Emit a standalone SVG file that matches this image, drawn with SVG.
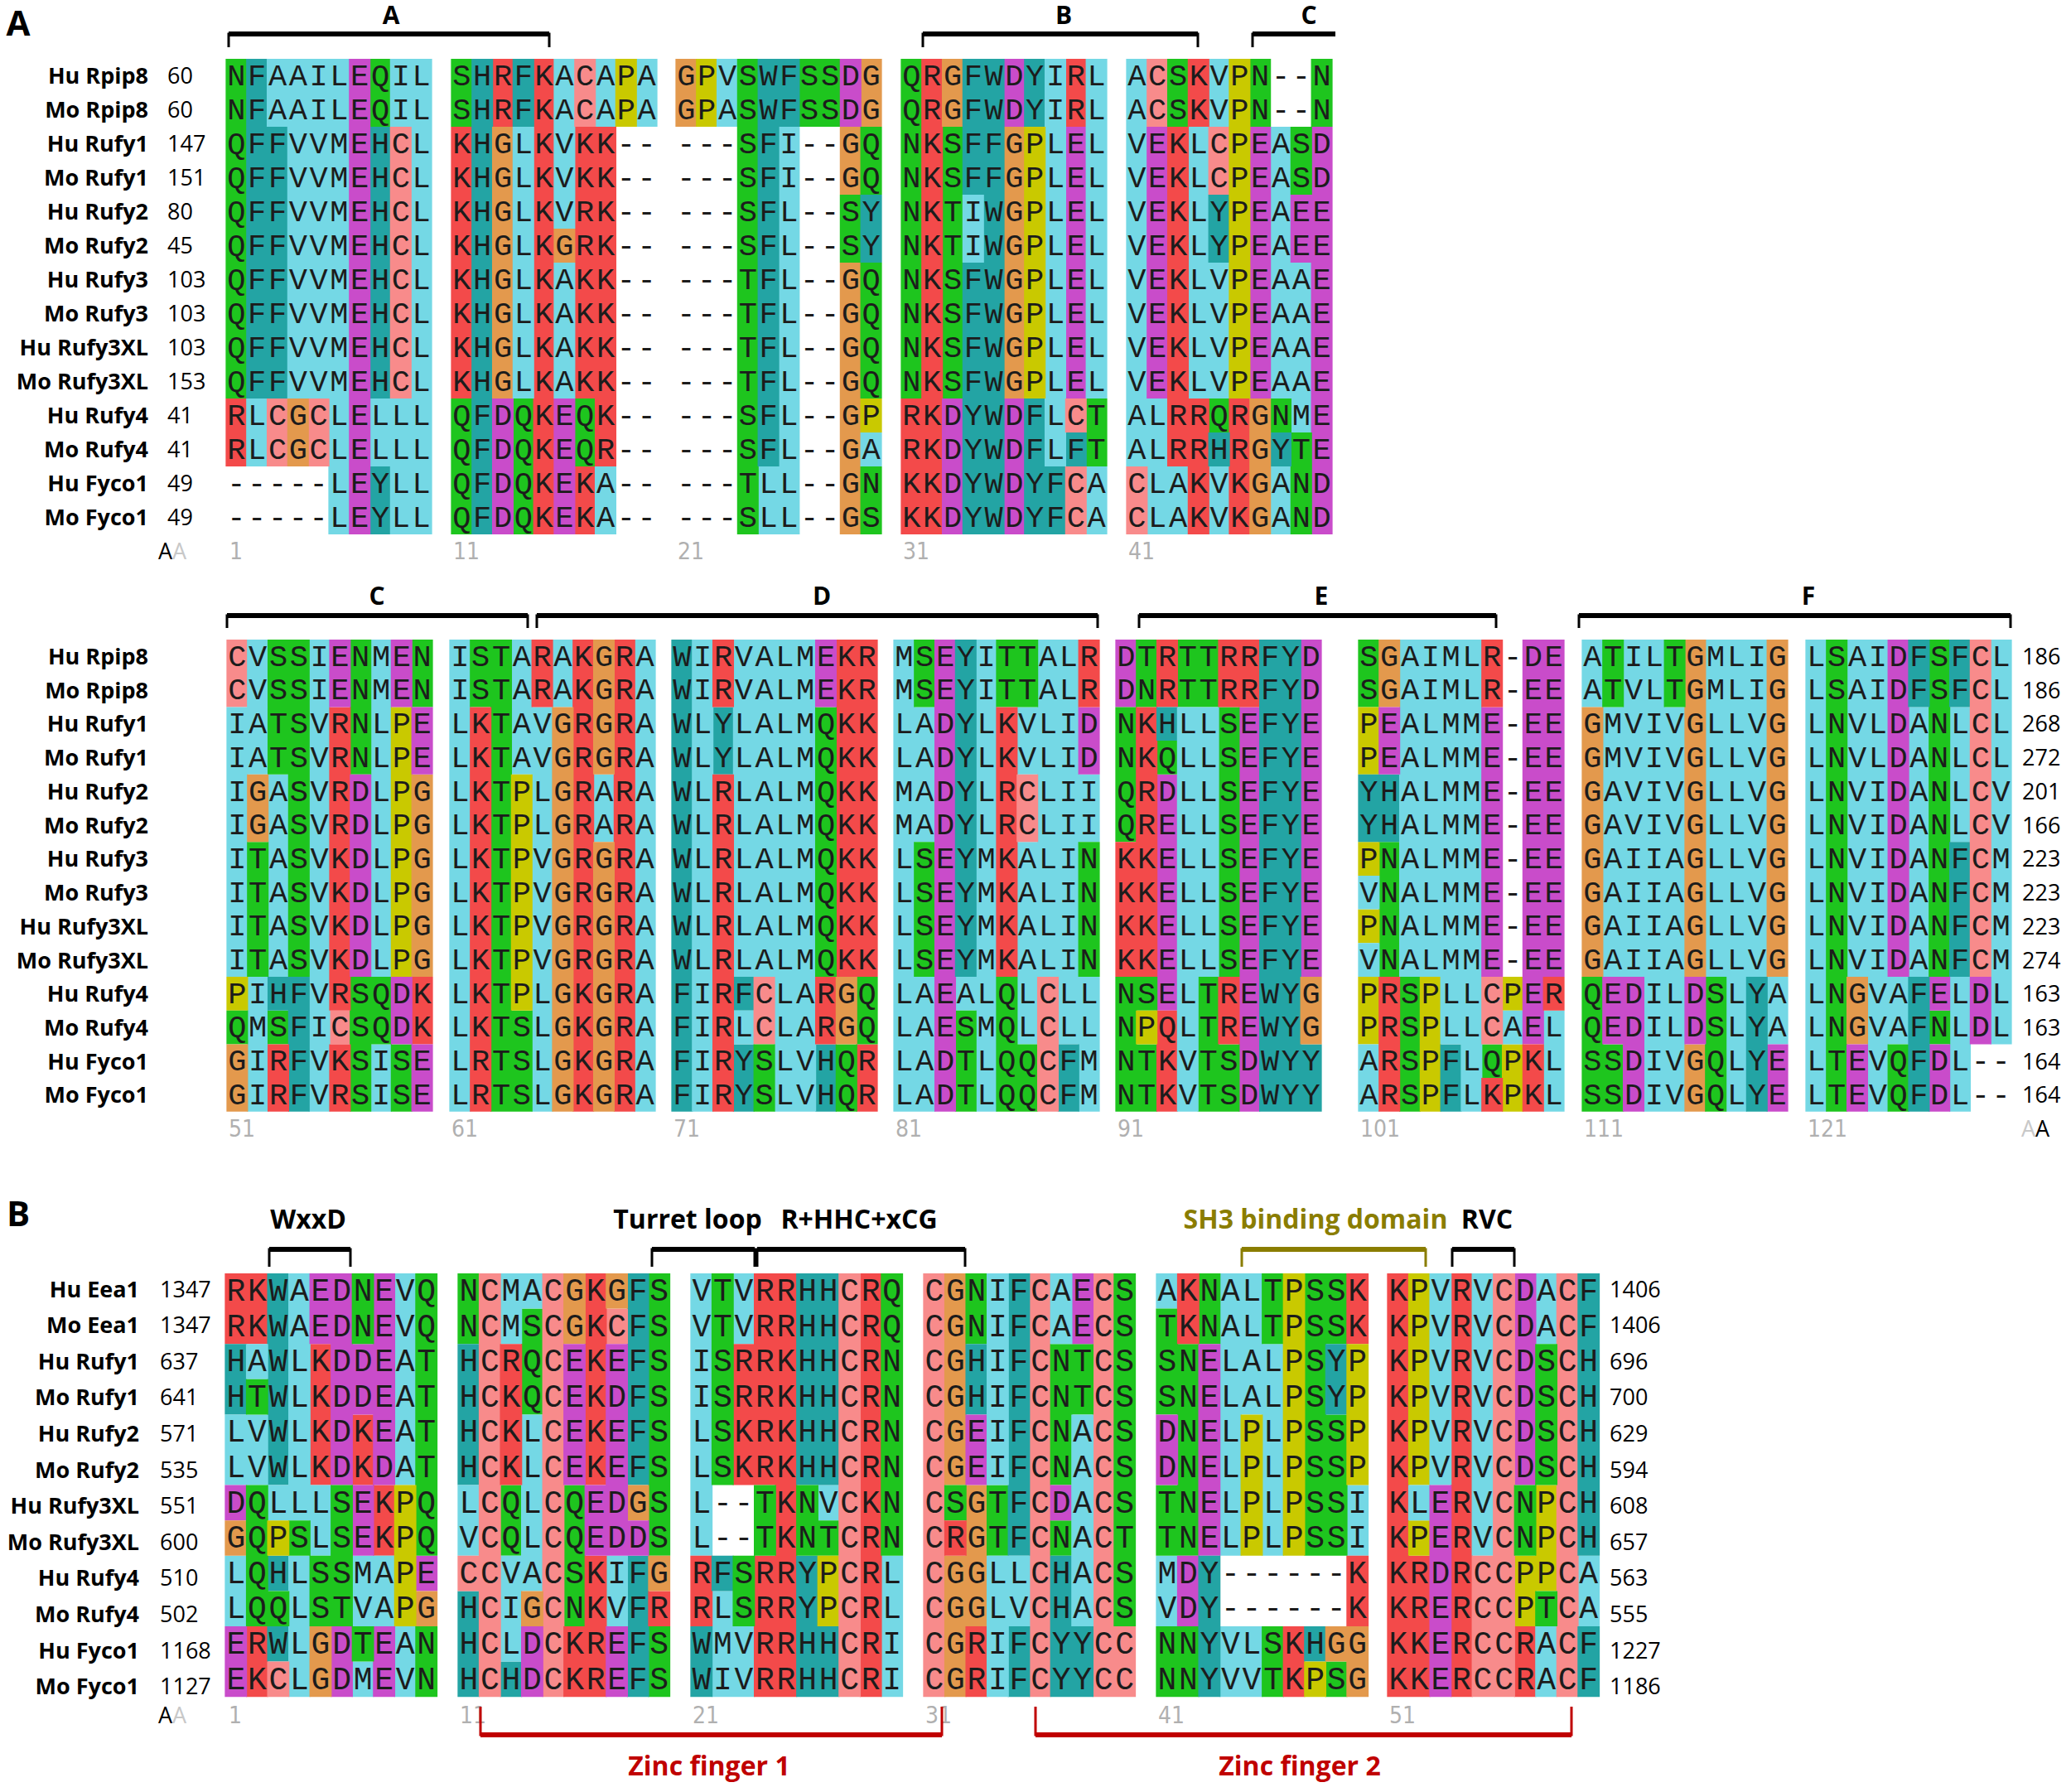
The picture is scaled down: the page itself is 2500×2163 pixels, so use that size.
<svg xmlns="http://www.w3.org/2000/svg" width="2500" height="2163" viewBox="0 0 2500 2163">
<style>
.bg path{fill:none;stroke-width:1.05}
.g{stroke:#1ec51e}.t{stroke:#23a4a4}.b{stroke:#74d8e5}.r{stroke:#f34a4a}.p{stroke:#f88b8b}.o{stroke:#e3994d}.y{stroke:#c9c900}.m{stroke:#c94cca}
.sq{font-family:"Liberation Mono","DejaVu Sans Mono",monospace;fill:#1c1c1c}
.sa{font-size:37px;letter-spacing:2.6px}
.sb{font-size:38px;letter-spacing:2.75px}
.nm{font-family:"Open Sans","Liberation Sans",sans-serif;font-weight:700;font-size:27px;text-anchor:end;fill:#000}
.nu{font-family:"Open Sans","Liberation Sans",sans-serif;font-size:27px;fill:#000}
.ix{font-family:"DejaVu Sans",sans-serif;font-stretch:condensed;font-size:28px;fill:#b0b0b0}
.hd{font-family:"Open Sans","Liberation Sans",sans-serif;font-weight:700;text-anchor:middle;fill:#000}
.tk{fill:none;stroke:#000;stroke-width:3}
.tp{fill:none;stroke:#000;stroke-width:6}
.ol{stroke:#8a7d00}
.rd{stroke:#c00000}
</style>
<rect width="2500" height="2163" fill="#fff"/>

<g id="panelA-top">
<g id="bgA1" class="bg">
<g transform="translate(273,71) scale(24.8,41)">
<path class="g" d="M.5 0v10M7.5 0v2"/>
<path class="r" d="M.5 10v2"/>
<path class="t" d="M1.5 0v10M2.5 2v8M7.5 2v8M7.5 12v2"/>
<path class="b" d="M1.5 10v2M2.5 0v2M3.5 0v10M4.5 0v10M5.5 0v14M7.5 10v2M8.5 0v2M8.5 10v4M9.5 0v14"/>
<path class="p" d="M2.5 10v2M4.5 10v2M8.5 2v8"/>
<path class="o" d="M3.5 10v2"/>
<path class="m" d="M6.5 0v14"/>
</g>
<g transform="translate(545,71) scale(24.8,41)">
<path class="g" d="M.5 0v2M.5 10v4M3.5 10v4M6.5 10v2"/>
<path class="r" d="M.5 2v8M2.5 0v2M4.5 0v14M6.5 2v8M6.5 12v2M7.5 2v10"/>
<path class="t" d="M1.5 0v14M3.5 0v2"/>
<path class="o" d="M2.5 2v8M5.5 5v1"/>
<path class="m" d="M2.5 10v4M5.5 10v4"/>
<path class="b" d="M3.5 2v8M5.5 0v5M5.5 6v4M7.5 0v2M7.5 12v2M9.5 0v2"/>
<path class="p" d="M6.5 0v2"/>
<path class="y" d="M8.5 0v2"/>
</g>
<g transform="translate(816,71) scale(24.8,41)">
<path class="o" d="M.5 0v2M8.5 2v2M8.5 6v8M9.5 0v2"/>
<path class="y" d="M1.5 0v2M9.5 10v1"/>
<path class="b" d="M2.5 0v2M4.5 12v2M5.5 2v12M9.5 11v1"/>
<path class="g" d="M3.5 0v14M6.5 0v2M7.5 0v2M8.5 4v2M9.5 2v2M9.5 6v4M9.5 12v2"/>
<path class="t" d="M4.5 0v12M5.5 0v2M9.5 4v2"/>
<path class="m" d="M8.5 0v2"/>
</g>
<g transform="translate(1088,71) scale(24.8,41)">
<path class="g" d="M.5 0v10M2.5 2v8M9.5 10v2"/>
<path class="r" d="M.5 10v4M1.5 0v14M8.5 0v2"/>
<path class="o" d="M2.5 0v2M5.5 2v8"/>
<path class="m" d="M2.5 10v4M5.5 0v2M5.5 10v4M8.5 2v8"/>
<path class="t" d="M3.5 0v4M3.5 6v8M4.5 0v14M6.5 0v2M6.5 10v4M7.5 12v2M8.5 11v1"/>
<path class="b" d="M3.5 4v2M7.5 0v12M9.5 0v10M9.5 12v2"/>
<path class="y" d="M6.5 2v8"/>
<path class="p" d="M8.5 10v1M8.5 12v2"/>
</g>
<g transform="translate(1360,71) scale(24.8,41)">
<path class="b" d="M.5 0v12M1.5 10v4M2.5 12v2M3.5 2v8M4.5 0v2M4.5 6v4M4.5 12v2M7.5 2v8M7.5 12v2M8.5 6v5"/>
<path class="p" d="M.5 12v2M1.5 0v2M4.5 2v2"/>
<path class="m" d="M1.5 2v8M6.5 2v8M8.5 4v2M9.5 2v12"/>
<path class="g" d="M2.5 0v2M4.5 10v1M6.5 0v2M7.5 10v1M8.5 2v2M8.5 11v3M9.5 0v2"/>
<path class="r" d="M2.5 2v10M3.5 0v2M3.5 10v4M5.5 10v4"/>
<path class="t" d="M4.5 4v2M4.5 11v1M7.5 11v1"/>
<path class="y" d="M5.5 0v10"/>
<path class="o" d="M6.5 10v4"/>
</g>
</g>
<g id="seqA1" class="sq sa">
<text y="103"><tspan x="274.3">NFAAILEQIL</tspan><tspan x="546.3">SHRFKACAPA</tspan><tspan x="817.3">GPVSWFSSDG</tspan><tspan x="1089.3">QRGFWDYIRL</tspan><tspan x="1361.3">ACSKVPN--N</tspan></text>
<text y="144"><tspan x="274.3">NFAAILEQIL</tspan><tspan x="546.3">SHRFKACAPA</tspan><tspan x="817.3">GPASWFSSDG</tspan><tspan x="1089.3">QRGFWDYIRL</tspan><tspan x="1361.3">ACSKVPN--N</tspan></text>
<text y="185"><tspan x="274.3">QFFVVMEHCL</tspan><tspan x="546.3">KHGLKVKK--</tspan><tspan x="817.3">---SFI--GQ</tspan><tspan x="1089.3">NKSFFGPLEL</tspan><tspan x="1361.3">VEKLCPEASD</tspan></text>
<text y="226"><tspan x="274.3">QFFVVMEHCL</tspan><tspan x="546.3">KHGLKVKK--</tspan><tspan x="817.3">---SFI--GQ</tspan><tspan x="1089.3">NKSFFGPLEL</tspan><tspan x="1361.3">VEKLCPEASD</tspan></text>
<text y="267"><tspan x="274.3">QFFVVMEHCL</tspan><tspan x="546.3">KHGLKVRK--</tspan><tspan x="817.3">---SFL--SY</tspan><tspan x="1089.3">NKTIWGPLEL</tspan><tspan x="1361.3">VEKLYPEAEE</tspan></text>
<text y="308"><tspan x="274.3">QFFVVMEHCL</tspan><tspan x="546.3">KHGLKGRK--</tspan><tspan x="817.3">---SFL--SY</tspan><tspan x="1089.3">NKTIWGPLEL</tspan><tspan x="1361.3">VEKLYPEAEE</tspan></text>
<text y="349"><tspan x="274.3">QFFVVMEHCL</tspan><tspan x="546.3">KHGLKAKK--</tspan><tspan x="817.3">---TFL--GQ</tspan><tspan x="1089.3">NKSFWGPLEL</tspan><tspan x="1361.3">VEKLVPEAAE</tspan></text>
<text y="390"><tspan x="274.3">QFFVVMEHCL</tspan><tspan x="546.3">KHGLKAKK--</tspan><tspan x="817.3">---TFL--GQ</tspan><tspan x="1089.3">NKSFWGPLEL</tspan><tspan x="1361.3">VEKLVPEAAE</tspan></text>
<text y="431"><tspan x="274.3">QFFVVMEHCL</tspan><tspan x="546.3">KHGLKAKK--</tspan><tspan x="817.3">---TFL--GQ</tspan><tspan x="1089.3">NKSFWGPLEL</tspan><tspan x="1361.3">VEKLVPEAAE</tspan></text>
<text y="472"><tspan x="274.3">QFFVVMEHCL</tspan><tspan x="546.3">KHGLKAKK--</tspan><tspan x="817.3">---TFL--GQ</tspan><tspan x="1089.3">NKSFWGPLEL</tspan><tspan x="1361.3">VEKLVPEAAE</tspan></text>
<text y="513"><tspan x="274.3">RLCGCLELLL</tspan><tspan x="546.3">QFDQKEQK--</tspan><tspan x="817.3">---SFL--GP</tspan><tspan x="1089.3">RKDYWDFLCT</tspan><tspan x="1361.3">ALRRQRGNME</tspan></text>
<text y="554"><tspan x="274.3">RLCGCLELLL</tspan><tspan x="546.3">QFDQKEQR--</tspan><tspan x="817.3">---SFL--GA</tspan><tspan x="1089.3">RKDYWDFLFT</tspan><tspan x="1361.3">ALRRHRGYTE</tspan></text>
<text y="595"><tspan x="274.3">-----LEYLL</tspan><tspan x="546.3">QFDQKEKA--</tspan><tspan x="817.3">---TLL--GN</tspan><tspan x="1089.3">KKDYWDYFCA</tspan><tspan x="1361.3">CLAKVKGAND</tspan></text>
<text y="636"><tspan x="274.3">-----LEYLL</tspan><tspan x="546.3">QFDQKEKA--</tspan><tspan x="817.3">---SLL--GS</tspan><tspan x="1089.3">KKDYWDYFCA</tspan><tspan x="1361.3">CLAKVKGAND</tspan></text>
</g>
<g id="namesA1">
<text class="nm" x="179" y="101">Hu Rpip8</text><text class="nu" x="202" y="101">60</text>
<text class="nm" x="179" y="142">Mo Rpip8</text><text class="nu" x="202" y="142">60</text>
<text class="nm" x="179" y="183">Hu Rufy1</text><text class="nu" x="202" y="183">147</text>
<text class="nm" x="179" y="224">Mo Rufy1</text><text class="nu" x="202" y="224">151</text>
<text class="nm" x="179" y="265">Hu Rufy2</text><text class="nu" x="202" y="265">80</text>
<text class="nm" x="179" y="306">Mo Rufy2</text><text class="nu" x="202" y="306">45</text>
<text class="nm" x="179" y="347">Hu Rufy3</text><text class="nu" x="202" y="347">103</text>
<text class="nm" x="179" y="388">Mo Rufy3</text><text class="nu" x="202" y="388">103</text>
<text class="nm" x="179" y="429">Hu Rufy3XL</text><text class="nu" x="202" y="429">103</text>
<text class="nm" x="179" y="470">Mo Rufy3XL</text><text class="nu" x="202" y="470">153</text>
<text class="nm" x="179" y="511">Hu Rufy4</text><text class="nu" x="202" y="511">41</text>
<text class="nm" x="179" y="552">Mo Rufy4</text><text class="nu" x="202" y="552">41</text>
<text class="nm" x="179" y="593">Hu Fyco1</text><text class="nu" x="202" y="593">49</text>
<text class="nm" x="179" y="634">Mo Fyco1</text><text class="nu" x="202" y="634">49</text>
<text class="nu" x="191" y="675">A<tspan fill="#c8c8c8">A</tspan></text>
</g>
<g id="idxA1" class="ix">
<text x="277" y="675">1</text><text x="547" y="675">11</text><text x="818" y="675">21</text><text x="1090" y="675">31</text><text x="1362" y="675">41</text>
</g>
</g>

<g id="panelA-bottom">
<g id="bgA2" class="bg">
<g transform="translate(274,772) scale(24.8,40.7)">
<path class="p" d="M.5 0v2M5.5 11v1"/>
<path class="b" d="M.5 2v8M1.5 0v4M1.5 10v4M2.5 4v6M4.5 0v14M7.5 0v10M7.5 12v2"/>
<path class="y" d="M.5 10v1M8.5 2v8"/>
<path class="g" d="M.5 11v1M1.5 6v4M2.5 0v4M2.5 11v1M3.5 0v10M6.5 0v4M6.5 10v4M7.5 10v2M8.5 12v2M9.5 0v2"/>
<path class="o" d="M.5 12v2M1.5 4v2M9.5 4v6"/>
<path class="t" d="M2.5 10v1M3.5 10v4"/>
<path class="r" d="M2.5 12v2M5.5 2v9M5.5 12v2M9.5 10v2"/>
<path class="m" d="M5.5 0v2M6.5 4v6M8.5 0v2M8.5 10v2M9.5 2v2M9.5 12v2"/>
</g>
<g transform="translate(543,772) scale(24.8,40.7)">
<path class="b" d="M.5 0v14M3.5 0v4M4.5 2v12M5.5 0v2M7.5 4v2M9.5 0v14"/>
<path class="g" d="M1.5 0v2M2.5 0v14M3.5 11v3"/>
<path class="r" d="M1.5 2v12M4.5 0v2M6.5 0v14M8.5 0v14"/>
<path class="y" d="M3.5 4v7"/>
<path class="o" d="M5.5 2v12M7.5 0v4M7.5 6v8"/>
</g>
<g transform="translate(811,772) scale(24.8,40.7)">
<path class="t" d="M.5 0v14M2.5 2v2M3.5 10v1M3.5 12v2M7.5 12v2"/>
<path class="b" d="M1.5 0v14M3.5 0v10M3.5 11v1M4.5 0v10M5.5 0v14M6.5 0v14"/>
<path class="r" d="M2.5 0v2M2.5 4v10M7.5 10v2M8.5 0v10M9.5 0v10M9.5 12v2"/>
<path class="p" d="M4.5 10v2"/>
<path class="g" d="M4.5 12v2M7.5 2v8M8.5 12v2M9.5 10v2"/>
<path class="m" d="M7.5 0v2"/>
<path class="o" d="M8.5 10v2"/>
</g>
<g transform="translate(1079,772) scale(24.8,40.7)">
<path class="b" d="M.5 0v14M1.5 2v4M1.5 10v4M3.5 10v1M4.5 0v14M6.5 2v2M6.5 6v6M7.5 0v10M8.5 0v12M9.5 4v2M9.5 10v4"/>
<path class="g" d="M1.5 0v2M1.5 6v4M3.5 11v3M5.5 0v2M5.5 10v4M6.5 0v2M6.5 12v2M9.5 6v4"/>
<path class="m" d="M2.5 0v14M9.5 2v2"/>
<path class="t" d="M3.5 0v10M8.5 12v2"/>
<path class="r" d="M5.5 2v8M9.5 0v2"/>
<path class="p" d="M6.5 4v2M7.5 10v4"/>
</g>
<g transform="translate(1347,772) scale(24.8,40.7)">
<path class="m" d="M.5 0v2M2.5 4v7M6.5 2v12M9.5 0v10"/>
<path class="g" d="M.5 2v4M.5 10v4M1.5 0v2M1.5 10v1M1.5 12v2M2.5 3v1M3.5 0v2M4.5 0v2M4.5 10v4M5.5 2v8M5.5 12v2"/>
<path class="r" d="M.5 6v4M1.5 2v8M2.5 0v2M2.5 11v3M5.5 0v2M5.5 10v2M6.5 0v2"/>
<path class="y" d="M1.5 11v1"/>
<path class="t" d="M2.5 2v1M7.5 0v14M8.5 0v14M9.5 12v2"/>
<path class="b" d="M3.5 2v12M4.5 2v8"/>
<path class="o" d="M9.5 10v2"/>
</g>
<g transform="translate(1640,772) scale(24.8,40.7)">
<path class="g" d="M.5 0v2M1.5 6v4M2.5 10v4M6.5 12v1"/>
<path class="y" d="M.5 2v2M.5 6v1M.5 8v1M.5 10v2M3.5 10v4M7.5 10v1M7.5 12v2"/>
<path class="t" d="M.5 4v2M1.5 4v2M4.5 12v2"/>
<path class="b" d="M.5 7v1M.5 9v1M.5 12v2M2.5 0v10M3.5 0v10M4.5 0v12M5.5 0v14M7.5 11v1M9.5 11v3"/>
<path class="o" d="M1.5 0v2"/>
<path class="m" d="M1.5 2v2M6.5 2v8M8.5 0v12M9.5 0v10"/>
<path class="r" d="M1.5 10v4M6.5 0v2M6.5 13v1M8.5 12v2M9.5 10v1"/>
<path class="p" d="M6.5 10v2"/>
</g>
<g transform="translate(1910,772) scale(24.8,40.7)">
<path class="b" d="M.5 0v2M1.5 2v8M2.5 0v10M3.5 0v14M4.5 2v12M6.5 0v10M7.5 0v14M8.5 0v10M9.5 10v2"/>
<path class="o" d="M.5 2v8M5.5 0v10M5.5 12v2M9.5 0v10"/>
<path class="g" d="M.5 10v4M1.5 0v2M1.5 12v2M4.5 0v2M6.5 10v4"/>
<path class="m" d="M1.5 10v2M2.5 10v4M5.5 10v2M9.5 12v2"/>
<path class="t" d="M8.5 10v4"/>
</g>
<g transform="translate(2180,772) scale(24.8,40.7)">
<path class="b" d="M.5 0v14M2.5 0v10M3.5 0v14M4.5 10v2M5.5 2v8M7.5 2v4M7.5 10v4M9.5 0v12"/>
<path class="g" d="M1.5 0v14M4.5 12v2M6.5 0v10M6.5 11v1"/>
<path class="o" d="M2.5 10v2"/>
<path class="m" d="M2.5 12v2M4.5 0v10M6.5 10v1M6.5 12v2M8.5 10v2"/>
<path class="t" d="M5.5 0v2M5.5 10v4M7.5 0v2M7.5 6v4"/>
<path class="p" d="M8.5 0v10"/>
</g>
</g>
<g id="seqA2" class="sq sa">
<text y="803.7"><tspan x="275.3">CVSSIENMEN</tspan><tspan x="544.3">ISTARAKGRA</tspan><tspan x="812.3">WIRVALMEKR</tspan><tspan x="1080.3">MSEYITTALR</tspan><tspan x="1348.3">DTRTTRRFYD</tspan><tspan x="1641.3">SGAIMLR-DE</tspan><tspan x="1911.3">ATILTGMLIG</tspan><tspan x="2181.3">LSAIDFSFCL</tspan></text>
<text y="844.4"><tspan x="275.3">CVSSIENMEN</tspan><tspan x="544.3">ISTARAKGRA</tspan><tspan x="812.3">WIRVALMEKR</tspan><tspan x="1080.3">MSEYITTALR</tspan><tspan x="1348.3">DNRTTRRFYD</tspan><tspan x="1641.3">SGAIMLR-EE</tspan><tspan x="1911.3">ATVLTGMLIG</tspan><tspan x="2181.3">LSAIDFSFCL</tspan></text>
<text y="885.1"><tspan x="275.3">IATSVRNLPE</tspan><tspan x="544.3">LKTAVGRGRA</tspan><tspan x="812.3">WLYLALMQKK</tspan><tspan x="1080.3">LADYLKVLID</tspan><tspan x="1348.3">NKHLLSEFYE</tspan><tspan x="1641.3">PEALMME-EE</tspan><tspan x="1911.3">GMVIVGLLVG</tspan><tspan x="2181.3">LNVLDANLCL</tspan></text>
<text y="925.8"><tspan x="275.3">IATSVRNLPE</tspan><tspan x="544.3">LKTAVGRGRA</tspan><tspan x="812.3">WLYLALMQKK</tspan><tspan x="1080.3">LADYLKVLID</tspan><tspan x="1348.3">NKQLLSEFYE</tspan><tspan x="1641.3">PEALMME-EE</tspan><tspan x="1911.3">GMVIVGLLVG</tspan><tspan x="2181.3">LNVLDANLCL</tspan></text>
<text y="966.5"><tspan x="275.3">IGASVRDLPG</tspan><tspan x="544.3">LKTPLGRARA</tspan><tspan x="812.3">WLRLALMQKK</tspan><tspan x="1080.3">MADYLRCLII</tspan><tspan x="1348.3">QRDLLSEFYE</tspan><tspan x="1641.3">YHALMME-EE</tspan><tspan x="1911.3">GAVIVGLLVG</tspan><tspan x="2181.3">LNVIDANLCV</tspan></text>
<text y="1007.2"><tspan x="275.3">IGASVRDLPG</tspan><tspan x="544.3">LKTPLGRARA</tspan><tspan x="812.3">WLRLALMQKK</tspan><tspan x="1080.3">MADYLRCLII</tspan><tspan x="1348.3">QRELLSEFYE</tspan><tspan x="1641.3">YHALMME-EE</tspan><tspan x="1911.3">GAVIVGLLVG</tspan><tspan x="2181.3">LNVIDANLCV</tspan></text>
<text y="1047.9"><tspan x="275.3">ITASVKDLPG</tspan><tspan x="544.3">LKTPVGRGRA</tspan><tspan x="812.3">WLRLALMQKK</tspan><tspan x="1080.3">LSEYMKALIN</tspan><tspan x="1348.3">KKELLSEFYE</tspan><tspan x="1641.3">PNALMME-EE</tspan><tspan x="1911.3">GAIIAGLLVG</tspan><tspan x="2181.3">LNVIDANFCM</tspan></text>
<text y="1088.6"><tspan x="275.3">ITASVKDLPG</tspan><tspan x="544.3">LKTPVGRGRA</tspan><tspan x="812.3">WLRLALMQKK</tspan><tspan x="1080.3">LSEYMKALIN</tspan><tspan x="1348.3">KKELLSEFYE</tspan><tspan x="1641.3">VNALMME-EE</tspan><tspan x="1911.3">GAIIAGLLVG</tspan><tspan x="2181.3">LNVIDANFCM</tspan></text>
<text y="1129.3"><tspan x="275.3">ITASVKDLPG</tspan><tspan x="544.3">LKTPVGRGRA</tspan><tspan x="812.3">WLRLALMQKK</tspan><tspan x="1080.3">LSEYMKALIN</tspan><tspan x="1348.3">KKELLSEFYE</tspan><tspan x="1641.3">PNALMME-EE</tspan><tspan x="1911.3">GAIIAGLLVG</tspan><tspan x="2181.3">LNVIDANFCM</tspan></text>
<text y="1170"><tspan x="275.3">ITASVKDLPG</tspan><tspan x="544.3">LKTPVGRGRA</tspan><tspan x="812.3">WLRLALMQKK</tspan><tspan x="1080.3">LSEYMKALIN</tspan><tspan x="1348.3">KKELLSEFYE</tspan><tspan x="1641.3">VNALMME-EE</tspan><tspan x="1911.3">GAIIAGLLVG</tspan><tspan x="2181.3">LNVIDANFCM</tspan></text>
<text y="1210.7"><tspan x="275.3">PIHFVRSQDK</tspan><tspan x="544.3">LKTPLGKGRA</tspan><tspan x="812.3">FIRFCLARGQ</tspan><tspan x="1080.3">LAEALQLCLL</tspan><tspan x="1348.3">NSELTREWYG</tspan><tspan x="1641.3">PRSPLLCPER</tspan><tspan x="1911.3">QEDILDSLYA</tspan><tspan x="2181.3">LNGVAFELDL</tspan></text>
<text y="1251.4"><tspan x="275.3">QMSFICSQDK</tspan><tspan x="544.3">LKTSLGKGRA</tspan><tspan x="812.3">FIRLCLARGQ</tspan><tspan x="1080.3">LAESMQLCLL</tspan><tspan x="1348.3">NPQLTREWYG</tspan><tspan x="1641.3">PRSPLLCAEL</tspan><tspan x="1911.3">QEDILDSLYA</tspan><tspan x="2181.3">LNGVAFNLDL</tspan></text>
<text y="1292.1"><tspan x="275.3">GIRFVKSISE</tspan><tspan x="544.3">LRTSLGKGRA</tspan><tspan x="812.3">FIRYSLVHQR</tspan><tspan x="1080.3">LADTLQQCFM</tspan><tspan x="1348.3">NTKVTSDWYY</tspan><tspan x="1641.3">ARSPFLQPKL</tspan><tspan x="1911.3">SSDIVGQLYE</tspan><tspan x="2181.3">LTEVQFDL--</tspan></text>
<text y="1332.8"><tspan x="275.3">GIRFVRSISE</tspan><tspan x="544.3">LRTSLGKGRA</tspan><tspan x="812.3">FIRYSLVHQR</tspan><tspan x="1080.3">LADTLQQCFM</tspan><tspan x="1348.3">NTKVTSDWYY</tspan><tspan x="1641.3">ARSPFLKPKL</tspan><tspan x="1911.3">SSDIVGQLYE</tspan><tspan x="2181.3">LTEVQFDL--</tspan></text>
</g>
<g id="namesA2">
<text class="nm" x="179" y="802">Hu Rpip8</text><text class="nu" x="2441" y="802">186</text>
<text class="nm" x="179" y="842.7">Mo Rpip8</text><text class="nu" x="2441" y="842.7">186</text>
<text class="nm" x="179" y="883.4">Hu Rufy1</text><text class="nu" x="2441" y="883.4">268</text>
<text class="nm" x="179" y="924.2">Mo Rufy1</text><text class="nu" x="2441" y="924.2">272</text>
<text class="nm" x="179" y="964.9">Hu Rufy2</text><text class="nu" x="2441" y="964.9">201</text>
<text class="nm" x="179" y="1005.6">Mo Rufy2</text><text class="nu" x="2441" y="1005.6">166</text>
<text class="nm" x="179" y="1046.3">Hu Rufy3</text><text class="nu" x="2441" y="1046.3">223</text>
<text class="nm" x="179" y="1087">Mo Rufy3</text><text class="nu" x="2441" y="1087">223</text>
<text class="nm" x="179" y="1127.8">Hu Rufy3XL</text><text class="nu" x="2441" y="1127.8">223</text>
<text class="nm" x="179" y="1168.5">Mo Rufy3XL</text><text class="nu" x="2441" y="1168.5">274</text>
<text class="nm" x="179" y="1209.2">Hu Rufy4</text><text class="nu" x="2441" y="1209.2">163</text>
<text class="nm" x="179" y="1249.9">Mo Rufy4</text><text class="nu" x="2441" y="1249.9">163</text>
<text class="nm" x="179" y="1290.6">Hu Fyco1</text><text class="nu" x="2441" y="1290.6">164</text>
<text class="nm" x="179" y="1331.4">Mo Fyco1</text><text class="nu" x="2441" y="1331.4">164</text>
<text class="nu" x="2440" y="1372"><tspan fill="#c8c8c8">A</tspan>A</text>
</g>
<g id="idxA2" class="ix">
<text x="276" y="1372">51</text><text x="545" y="1372">61</text><text x="813" y="1372">71</text><text x="1081" y="1372">81</text><text x="1349" y="1372">91</text><text x="1642" y="1372">101</text><text x="1912" y="1372">111</text><text x="2182" y="1372">121</text>
</g>
</g>

<g id="panelB">
<g id="bgB" class="bg">
<g transform="translate(272,1537) scale(25.55,42.6)">
<path class="r" d="M.5 0v2M1.5 0v2M1.5 10v2M4.5 2v4M6.5 4v2M7.5 6v2"/>
<path class="t" d="M.5 2v2M2.5 0v6M2.5 8v1M2.5 10v1"/>
<path class="b" d="M.5 4v2M.5 8v2M1.5 2v1M1.5 4v2M2.5 6v1M3.5 0v7M3.5 8v4M4.5 6v2M6.5 8v2M6.5 11v1M7.5 8v2M8.5 0v6M8.5 10v2"/>
<path class="m" d="M.5 6v1M.5 10v2M4.5 0v2M5.5 0v6M5.5 10v2M6.5 2v2M6.5 6v2M7.5 0v6M7.5 10v2M9.5 8v1"/>
<path class="o" d="M.5 7v1M4.5 10v2M9.5 9v1"/>
<path class="g" d="M1.5 3v1M1.5 6v4M2.5 9v1M3.5 7v1M4.5 8v2M5.5 6v4M6.5 0v2M6.5 10v1M9.5 0v8M9.5 10v2"/>
<path class="y" d="M2.5 7v1M8.5 6v4"/>
<path class="p" d="M2.5 11v1"/>
</g>
<g transform="translate(553,1537) scale(25.55,42.6)">
<path class="g" d="M.5 0v2M2.5 6v2M3.5 1v3M5.5 6v4M9.5 0v8M9.5 10v2"/>
<path class="t" d="M.5 2v4M.5 9v3M2.5 11v1M8.5 0v6M8.5 8v4"/>
<path class="b" d="M.5 6v2M2.5 0v2M2.5 8v3M3.5 0v1M3.5 4v5M7.5 8v2"/>
<path class="p" d="M.5 8v1M1.5 0v12M4.5 0v12M7.5 1v1"/>
<path class="r" d="M2.5 2v4M5.5 10v2M6.5 0v6M6.5 8v4M9.5 9v1"/>
<path class="o" d="M3.5 9v1M5.5 0v2M7.5 0v1M8.5 6v1M9.5 8v1"/>
<path class="m" d="M3.5 10v2M5.5 2v4M6.5 6v2M7.5 2v6M7.5 10v2M8.5 7v1"/>
</g>
<g transform="translate(834,1537) scale(25.55,42.6)">
<path class="b" d="M.5 0v8M1.5 9v3M2.5 0v2M2.5 10v2M6.5 6v1M9.5 8v4"/>
<path class="r" d="M.5 8v2M2.5 2v4M3.5 0v6M3.5 8v4M4.5 0v12M8.5 0v12"/>
<path class="t" d="M.5 10v2M1.5 8v1M5.5 0v6M5.5 8v4M6.5 0v6M6.5 10v2"/>
<path class="g" d="M1.5 0v6M2.5 8v2M3.5 6v2M5.5 6v2M6.5 7v1M9.5 0v8"/>
<path class="y" d="M6.5 8v2"/>
<path class="p" d="M7.5 0v12"/>
</g>
<g transform="translate(1115,1537) scale(25.55,42.6)">
<path class="p" d="M.5 0v12M5.5 0v12M8.5 0v12M9.5 10v2"/>
<path class="o" d="M1.5 0v6M1.5 8v4M2.5 6v4"/>
<path class="g" d="M1.5 6v1M2.5 0v2M3.5 6v2M6.5 2v4M6.5 7v1M7.5 2v2M9.5 0v10"/>
<path class="r" d="M1.5 7v1M2.5 10v2"/>
<path class="t" d="M2.5 2v2M4.5 0v8M4.5 10v2M6.5 8v4M7.5 10v2"/>
<path class="m" d="M2.5 4v2M6.5 6v1M7.5 0v2"/>
<path class="b" d="M3.5 0v6M3.5 8v4M4.5 8v2M6.5 0v2M7.5 4v6"/>
</g>
<g transform="translate(1396,1537) scale(25.55,42.6)">
<path class="b" d="M.5 0v1M.5 8v2M3.5 0v8M3.5 10v2M4.5 0v4M4.5 10v2M5.5 2v6M9.5 6v2"/>
<path class="g" d="M.5 1v3M.5 6v2M.5 10v2M1.5 2v6M1.5 10v2M2.5 0v2M5.5 0v2M5.5 10v2M7.5 0v8M8.5 0v2M8.5 4v4M8.5 11v1"/>
<path class="m" d="M.5 4v2M1.5 8v2M2.5 2v6"/>
<path class="r" d="M1.5 0v2M6.5 10v2M9.5 0v2M9.5 8v2"/>
<path class="t" d="M2.5 8v4M7.5 10v1M8.5 2v2"/>
<path class="y" d="M4.5 4v4M6.5 0v8M7.5 11v1M9.5 2v4"/>
<path class="o" d="M8.5 10v1M9.5 10v2"/>
</g>
<g transform="translate(1675,1537) scale(25.55,42.6)">
<path class="r" d="M.5 0v12M1.5 8v4M3.5 0v12M6.5 10v2"/>
<path class="y" d="M1.5 0v6M1.5 7v1M6.5 8v2M7.5 6v3"/>
<path class="b" d="M1.5 6v1M2.5 0v6M4.5 0v8M7.5 0v2M7.5 10v2M9.5 8v2"/>
<path class="m" d="M2.5 6v6M6.5 0v6"/>
<path class="p" d="M4.5 8v4M5.5 0v12M8.5 0v12"/>
<path class="g" d="M6.5 6v2M7.5 2v4M7.5 9v1"/>
<path class="t" d="M9.5 0v8M9.5 10v2"/>
</g>
</g>
<g id="seqB" class="sq sb">
<text y="1570"><tspan x="273.4">RKWAEDNEVQ</tspan><tspan x="554.4">NCMACGKGFS</tspan><tspan x="835.4">VTVRRHHCRQ</tspan><tspan x="1116.4">CGNIFCAECS</tspan><tspan x="1397.4">AKNALTPSSK</tspan><tspan x="1676.4">KPVRVCDACF</tspan></text>
<text y="1612.6"><tspan x="273.4">RKWAEDNEVQ</tspan><tspan x="554.4">NCMSCGKCFS</tspan><tspan x="835.4">VTVRRHHCRQ</tspan><tspan x="1116.4">CGNIFCAECS</tspan><tspan x="1397.4">TKNALTPSSK</tspan><tspan x="1676.4">KPVRVCDACF</tspan></text>
<text y="1655.2"><tspan x="273.4">HAWLKDDEAT</tspan><tspan x="554.4">HCRQCEKEFS</tspan><tspan x="835.4">ISRRKHHCRN</tspan><tspan x="1116.4">CGHIFCNTCS</tspan><tspan x="1397.4">SNELALPSYP</tspan><tspan x="1676.4">KPVRVCDSCH</tspan></text>
<text y="1697.8"><tspan x="273.4">HTWLKDDEAT</tspan><tspan x="554.4">HCKQCEKDFS</tspan><tspan x="835.4">ISRRKHHCRN</tspan><tspan x="1116.4">CGHIFCNTCS</tspan><tspan x="1397.4">SNELALPSYP</tspan><tspan x="1676.4">KPVRVCDSCH</tspan></text>
<text y="1740.4"><tspan x="273.4">LVWLKDKEAT</tspan><tspan x="554.4">HCKLCEKEFS</tspan><tspan x="835.4">LSKRKHHCRN</tspan><tspan x="1116.4">CGEIFCNACS</tspan><tspan x="1397.4">DNELPLPSSP</tspan><tspan x="1676.4">KPVRVCDSCH</tspan></text>
<text y="1783"><tspan x="273.4">LVWLKDKDAT</tspan><tspan x="554.4">HCKLCEKEFS</tspan><tspan x="835.4">LSKRKHHCRN</tspan><tspan x="1116.4">CGEIFCNACS</tspan><tspan x="1397.4">DNELPLPSSP</tspan><tspan x="1676.4">KPVRVCDSCH</tspan></text>
<text y="1825.6"><tspan x="273.4">DQLLLSEKPQ</tspan><tspan x="554.4">LCQLCQEDGS</tspan><tspan x="835.4">L--TKNVCKN</tspan><tspan x="1116.4">CSGTFCDACS</tspan><tspan x="1397.4">TNELPLPSSI</tspan><tspan x="1676.4">KLERVCNPCH</tspan></text>
<text y="1868.2"><tspan x="273.4">GQPSLSEKPQ</tspan><tspan x="554.4">VCQLCQEDDS</tspan><tspan x="835.4">L--TKNTCRN</tspan><tspan x="1116.4">CRGTFCNACT</tspan><tspan x="1397.4">TNELPLPSSI</tspan><tspan x="1676.4">KPERVCNPCH</tspan></text>
<text y="1910.8"><tspan x="273.4">LQHLSSMAPE</tspan><tspan x="554.4">CCVACSKIFG</tspan><tspan x="835.4">RFSRRYPCRL</tspan><tspan x="1116.4">CGGLLCHACS</tspan><tspan x="1397.4">MDY------K</tspan><tspan x="1676.4">KRDRCCPPCA</tspan></text>
<text y="1953.4"><tspan x="273.4">LQQLSTVAPG</tspan><tspan x="554.4">HCIGCNKVFR</tspan><tspan x="835.4">RLSRRYPCRL</tspan><tspan x="1116.4">CGGLVCHACS</tspan><tspan x="1397.4">VDY------K</tspan><tspan x="1676.4">KRERCCPTCA</tspan></text>
<text y="1996"><tspan x="273.4">ERWLGDTEAN</tspan><tspan x="554.4">HCLDCKREFS</tspan><tspan x="835.4">WMVRRHHCRI</tspan><tspan x="1116.4">CGRIFCYYCC</tspan><tspan x="1397.4">NNYVLSKHGG</tspan><tspan x="1676.4">KKERCCRACF</tspan></text>
<text y="2038.6"><tspan x="273.4">EKCLGDMEVN</tspan><tspan x="554.4">HCHDCKREFS</tspan><tspan x="835.4">WIVRRHHCRI</tspan><tspan x="1116.4">CGRIFCYYCC</tspan><tspan x="1397.4">NNYVVTKPSG</tspan><tspan x="1676.4">KKERCCRACF</tspan></text>
</g>
<g id="namesB">
<text class="nm" x="168" y="1565.5">Hu Eea1</text><text class="nu" x="193" y="1565.5">1347</text><text class="nu" x="1943" y="1565.5">1406</text>
<text class="nm" x="168" y="1609.1">Mo Eea1</text><text class="nu" x="193" y="1609.1">1347</text><text class="nu" x="1943" y="1609.1">1406</text>
<text class="nm" x="168" y="1652.7">Hu Rufy1</text><text class="nu" x="193" y="1652.7">637</text><text class="nu" x="1943" y="1652.7">696</text>
<text class="nm" x="168" y="1696.3">Mo Rufy1</text><text class="nu" x="193" y="1696.3">641</text><text class="nu" x="1943" y="1696.3">700</text>
<text class="nm" x="168" y="1739.9">Hu Rufy2</text><text class="nu" x="193" y="1739.9">571</text><text class="nu" x="1943" y="1739.9">629</text>
<text class="nm" x="168" y="1783.5">Mo Rufy2</text><text class="nu" x="193" y="1783.5">535</text><text class="nu" x="1943" y="1783.5">594</text>
<text class="nm" x="168" y="1827.1">Hu Rufy3XL</text><text class="nu" x="193" y="1827.1">551</text><text class="nu" x="1943" y="1827.1">608</text>
<text class="nm" x="168" y="1870.7">Mo Rufy3XL</text><text class="nu" x="193" y="1870.7">600</text><text class="nu" x="1943" y="1870.7">657</text>
<text class="nm" x="168" y="1914.3">Hu Rufy4</text><text class="nu" x="193" y="1914.3">510</text><text class="nu" x="1943" y="1914.3">563</text>
<text class="nm" x="168" y="1957.9">Mo Rufy4</text><text class="nu" x="193" y="1957.9">502</text><text class="nu" x="1943" y="1957.9">555</text>
<text class="nm" x="168" y="2001.5">Hu Fyco1</text><text class="nu" x="193" y="2001.5">1168</text><text class="nu" x="1943" y="2001.5">1227</text>
<text class="nm" x="168" y="2045.1">Mo Fyco1</text><text class="nu" x="193" y="2045.1">1127</text><text class="nu" x="1943" y="2045.1">1186</text>
<text class="nu" x="191" y="2080">A<tspan fill="#c8c8c8">A</tspan></text>
</g>
<g id="idxB" class="ix">
<text x="276" y="2080">1</text><text x="555" y="2080">11</text><text x="836" y="2080">21</text><text x="1117" y="2080">31</text><text x="1398" y="2080">41</text><text x="1677" y="2080">51</text>
</g>
</g>

<g id="connectors">
<path class="tk" d="M276 57V41H663V57M1114 57V41H1446V57M1512 57V41H1612"/>
<path class="tp" d="M276 41H663M1114 41H1446M1512 41H1612"/>
<path class="tk" d="M274 758V743H637V758M648 758V743H1325V758M1375 758V743H1806V758M1906 758V743H2427V758"/>
<path class="tp" d="M274 743H637M648 743H1325M1375 743H1806M1906 743H2427"/>
<path class="tk" d="M325 1529V1508H423V1529M787 1529V1508H911V1529M914 1529V1508H1165V1529M1753 1529V1508H1828V1529"/>
<path class="tp" d="M325 1508H423M787 1508H911M914 1508H1165M1753 1508H1828"/>
<path class="tk ol" d="M1499 1529V1508H1721V1529"/>
<path class="tp ol" d="M1499 1508H1721"/>
<path class="tk rd" d="M580 2060V2094H1137V2060M1250 2060V2094H1897V2060"/>
<path class="tp rd" d="M580 2094H1137M1250 2094H1897"/>
</g>

<g id="labels">
<text class="hd" x="22" y="43" font-size="42">A</text>
<text class="hd" x="22" y="1480" font-size="42">B</text>
<text class="hd" x="472" y="29" font-size="30">A</text>
<text class="hd" x="1284" y="29" font-size="30">B</text>
<text class="hd" x="1580" y="29" font-size="30">C</text>
<text class="hd" x="455" y="730" font-size="30">C</text>
<text class="hd" x="992" y="730" font-size="30">D</text>
<text class="hd" x="1595" y="730" font-size="30">E</text>
<text class="hd" x="2183" y="730" font-size="30">F</text>
<text class="hd" x="372" y="1483" font-size="32">WxxD</text>
<text class="hd" x="830" y="1483" font-size="32">Turret loop</text>
<text class="hd" x="1037" y="1483" font-size="32">R+HHC+xCG</text>
<text class="hd" x="1588" y="1483" font-size="32" style="fill:#8a7d00">SH3 binding domain</text>
<text class="hd" x="1795" y="1483" font-size="32">RVC</text>
<text class="hd" x="856" y="2143" font-size="32" style="fill:#c00000">Zinc finger 1</text>
<text class="hd" x="1569" y="2143" font-size="32" style="fill:#c00000">Zinc finger 2</text>
</g>
</svg>
